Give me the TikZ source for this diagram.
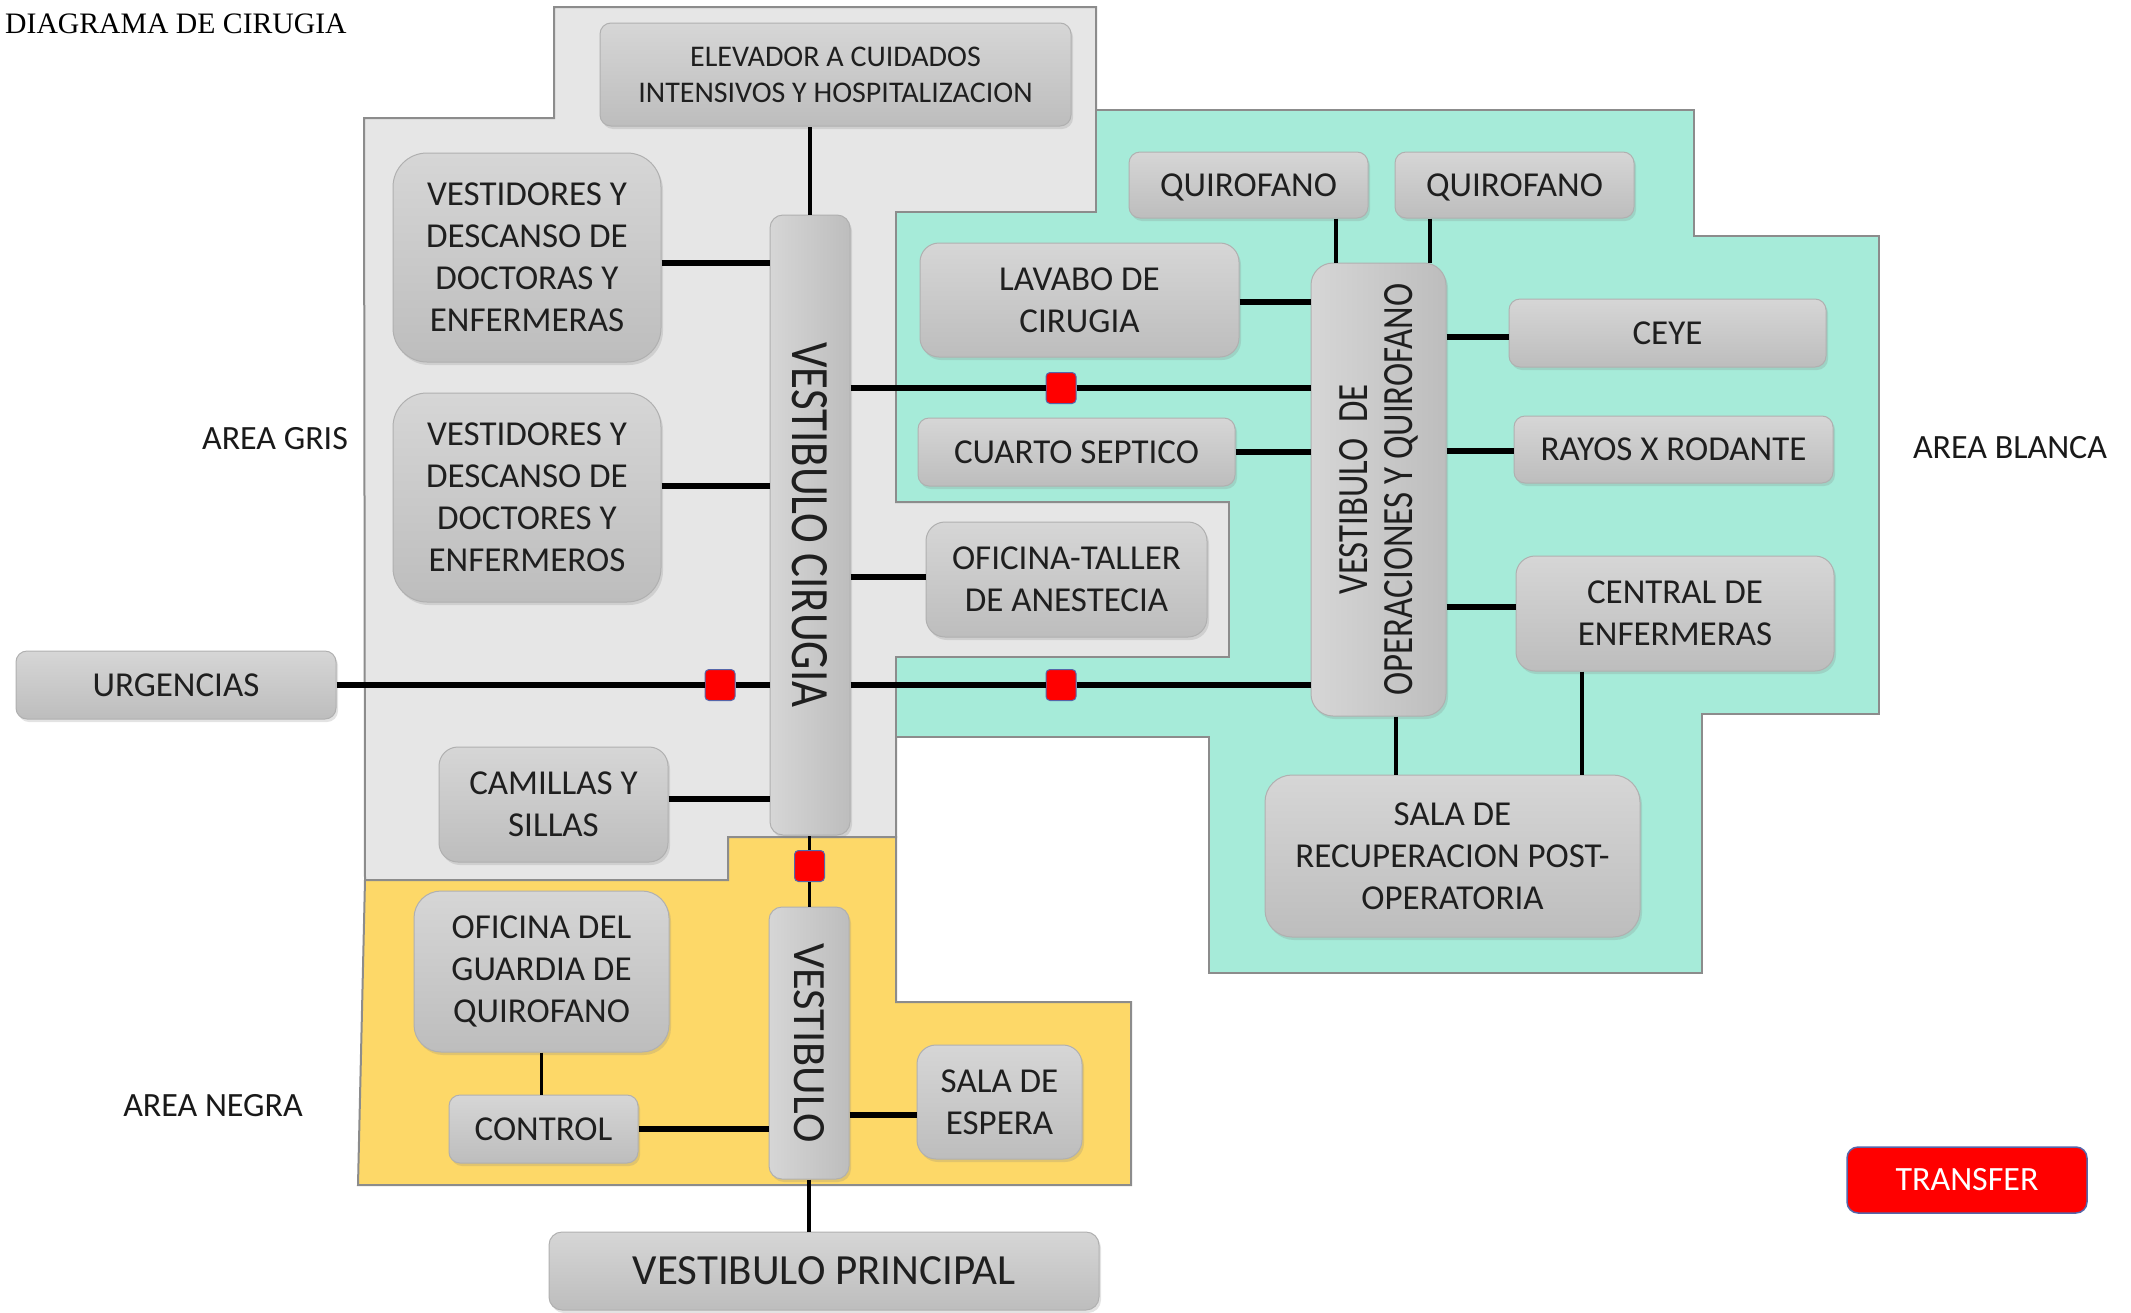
\documentclass[tikz,border=0pt]{standalone}
\usepackage{fontspec}
\setmainfont{Carlito}
\newfontfamily\titlefont{Liberation Serif}
\usetikzlibrary{shadows}
\definecolor{grayarea}{HTML}{E6E6E6}
\definecolor{tealarea}{HTML}{A6EBD9}
\definecolor{yellowarea}{HTML}{FDD868}
\definecolor{areaborder}{HTML}{8C8C8C}
\definecolor{boxtop}{HTML}{D6D6D6}
\definecolor{boxbot}{HTML}{BDBDBD}
\definecolor{boxline}{HTML}{B0B0B0}
\definecolor{redline}{HTML}{5566AA}
\begin{document}
\begin{tikzpicture}[x=1pt,y=-1pt,
  area/.style={draw=areaborder, line width=2pt},
  room/.style={draw=boxline, line width=1pt, top color=boxtop, bottom color=boxbot,
    inner sep=0pt, align=center, text=black!88,
    font=\fontsize{35pt}{42pt}\selectfont,
    drop shadow={shadow xshift=2pt, shadow yshift=-3pt, opacity=0.22}},
  rl/.style={rounded corners=34pt},
  rm/.style={rounded corners=19pt},
  rs/.style={rounded corners=11pt},
  barbox/.style={room, left color=boxtop, right color=boxbot, rounded corners=13pt},
  redsq/.style={fill=red, draw=redline, line width=1pt, rounded corners=4pt,
    minimum width=30pt, minimum height=31pt, inner sep=0pt},
  hconn/.style={line width=5.5pt, black},
  vconn/.style={line width=3.8pt, black},
  arealabel/.style={font=\fontsize{34pt}{40pt}\selectfont, text=black!90, inner sep=0pt}
]
\useasboundingbox (0,0) rectangle (2131,1312);
% areas
\path[area, fill=grayarea] (364,118) -- (554,118) -- (554,7) -- (1096,7) -- (1096,212)
  -- (896,212) -- (896,502) -- (1229,502) -- (1229,657) -- (896,657) -- (896,837)
  -- (728,837) -- (728,880) -- (365,880) -- cycle;
\path[area, fill=tealarea] (1096,110) -- (1694,110) -- (1694,236) -- (1879,236)
  -- (1879,714) -- (1702,714) -- (1702,973) -- (1209,973) -- (1209,737) -- (896,737)
  -- (896,657) -- (1229,657) -- (1229,502) -- (896,502) -- (896,212) -- (1096,212) -- cycle;
\path[area, fill=yellowarea] (728,837) -- (896,837) -- (896,1002) -- (1131,1002)
  -- (1131,1185) -- (358,1185) -- (365,880) -- (728,880) -- cycle;

% title and area labels
\node[anchor=west, inner sep=0pt, font=\titlefont\fontsize{29.7pt}{34pt}\selectfont] (title) at (5,24) {DIAGRAMA DE CIRUGIA};
\node[arealabel] (gris) at (275,439) {AREA GRIS};
\node[arealabel] (blanca) at (2010,448) {AREA BLANCA};
\node[arealabel] (negra) at (213,1106) {AREA NEGRA};

% rooms
\node[room, rs, minimum width=471pt, minimum height=103pt,
  font=\fontsize{30pt}{36pt}\selectfont] (elev) at (835.5,74.5)
  {ELEVADOR A CUIDADOS\\INTENSIVOS Y HOSPITALIZACION};
\node[room, rl, minimum width=268pt, minimum height=209pt] (v1) at (527,257.5)
  {VESTIDORES Y\\DESCANSO DE\\DOCTORAS Y\\ENFERMERAS};
\node[room, rl, minimum width=268pt, minimum height=209pt] (v2) at (527,497.5)
  {VESTIDORES Y\\DESCANSO DE\\DOCTORES Y\\ENFERMEROS};
\node[barbox, minimum width=80pt, minimum height=620pt] (vc) at (810,525)
  {\rotatebox{-90}{\resizebox{365pt}{35pt}{VESTIBULO CIRUGIA}}};
\node[room, rs, minimum width=320pt, minimum height=68pt] (urg) at (176,685) {URGENCIAS};
\node[room, rm, minimum width=229pt, minimum height=115pt] (cam) at (553.5,804.5)
  {CAMILLAS Y\\SILLAS};
\node[room, rm, minimum width=319pt, minimum height=114pt] (lav) at (1079.5,300)
  {LAVABO DE\\CIRUGIA};
\node[room, rs, minimum width=317pt, minimum height=68pt] (sep) at (1076.5,452)
  {CUARTO SEPTICO};
\node[room, rm, minimum width=281pt, minimum height=115pt] (ofi) at (1066.5,579.5)
  {OFICINA-TALLER\\DE ANESTECIA};
\node[room, rs, text depth=0pt, minimum width=239pt, minimum height=66pt] (q1) at (1248.5,185) {QUIROFANO};
\node[room, rs, text depth=0pt, minimum width=239pt, minimum height=66pt] (q2) at (1514.5,185) {QUIROFANO};
\node[barbox, rounded corners=22pt, minimum width=135pt, minimum height=453pt] (op) at (1378.5,489.5)
  {\rotatebox{90}{\vbox{\offinterlineskip
    \hbox to 412pt{\hss\resizebox{210pt}{28pt}{VESTIBULO\ \ DE}\hss}\vskip17pt
    \hbox{\resizebox{412pt}{28pt}{OPERACIONES Y QUIROFANO}}}}};
\node[room, rs, minimum width=317pt, minimum height=68pt] (ceye) at (1667.5,333) {CEYE};
\node[room, rs, minimum width=319pt, minimum height=67pt] (rayos) at (1673.5,449.5) {RAYOS X RODANTE};
\node[room, rm, minimum width=318pt, minimum height=115pt] (cen) at (1675,613.5)
  {CENTRAL DE\\ENFERMERAS};
\node[room, rounded corners=27pt, minimum width=375pt, minimum height=162pt] (rec) at (1452.5,856)
  {SALA DE\\RECUPERACION POST-\\OPERATORIA};
\node[room, rounded corners=27pt, minimum width=255pt, minimum height=161pt] (og) at (541.5,971.5)
  {OFICINA DEL\\GUARDIA DE\\QUIROFANO};
\node[room, rs, minimum width=189pt, minimum height=68pt] (ctrl) at (543.5,1129) {CONTROL};
\node[barbox, minimum width=80pt, minimum height=272pt] (vb) at (809,1043)
  {\rotatebox{-90}{\resizebox{199pt}{30pt}{VESTIBULO}}};
\node[room, rm, minimum width=165pt, minimum height=114pt] (esp) at (999.5,1102)
  {SALA DE\\ESPERA};
\node[room, rounded corners=13pt, minimum width=550pt, minimum height=78pt,
  font=\fontsize{43pt}{50pt}\selectfont] (prin) at (824,1271) {VESTIBULO PRINCIPAL};
\node[rs, fill=red, draw=redline, line width=1.5pt, minimum width=240pt, minimum height=66pt,
  inner sep=0pt, text=white, font=\fontsize{34pt}{40pt}\selectfont] (transfer) at (1967,1180) {TRANSFER};

% red doors
\node[redsq] (r1) at (720,685) {};
\node[redsq] (r2) at (1061,388) {};
\node[redsq] (r3) at (1061,685) {};
\node[redsq] (r4) at (809.5,866) {};

% connectors
\draw[vconn] (vc.north) -- (vc.north |- elev.south);
\draw[hconn] ([yshift=-5.5pt]v1.east) -- ([yshift=-5.5pt]v1.east -| vc.west);
\draw[hconn] ([yshift=11.5pt]v2.east) -- ([yshift=11.5pt]v2.east -| vc.west);
\draw[hconn] (urg.east) -- (r1.west);
\draw[hconn] (r1.east) -- (r1.east -| vc.west);
\draw[hconn] ([yshift=5.5pt]cam.east) -- ([yshift=5.5pt]cam.east -| vc.west);
\draw[hconn] (r2.west -| vc.east) -- (r2.west);
\draw[hconn] (r2.east) -- (r2.east -| op.west);
\draw[hconn] ([yshift=2.5pt]ofi.west -| vc.east) -- ([yshift=2.5pt]ofi.west);
\draw[hconn] (r3.west -| vc.east) -- (r3.west);
\draw[hconn] (r3.east) -- (r3.east -| op.west);
\draw[vconn] (r4.north) -- (r4.north |- vc.south);
\draw[vconn] (r4.south) -- (r4.south |- vb.north);
\draw[hconn] ([yshift=-2pt]lav.east) -- ([yshift=-2pt]lav.east -| op.west);
\draw[hconn] (sep.east) -- (sep.east -| op.west);
\draw[vconn] ([xshift=87.5pt]q1.south) -- ([xshift=87.5pt]q1.south |- op.north);
\draw[vconn] ([xshift=-84.5pt]q2.south) -- ([xshift=-84.5pt]q2.south |- op.north);
\draw[hconn] ([yshift=-4pt]ceye.west -| op.east) -- ([yshift=-4pt]ceye.west);
\draw[hconn] ([yshift=-1.5pt]rayos.west -| op.east) -- ([yshift=-1.5pt]rayos.west);
\draw[hconn] ([yshift=6.5pt]cen.west -| op.east) -- ([yshift=6.5pt]cen.west);
\draw[vconn] ([xshift=17.5pt]op.south) -- ([xshift=17.5pt]op.south |- rec.north);
\draw[vconn] ([xshift=-93pt]cen.south) -- ([xshift=-93pt]cen.south |- rec.north);
\draw[vconn] (og.south) -- (og.south |- ctrl.north);
\draw[hconn] (ctrl.east) -- (ctrl.east -| vb.west);
\draw[hconn] ([yshift=-13pt]esp.west -| vb.east) -- ([yshift=-13pt]esp.west);
\draw[vconn] (vb.south) -- (vb.south |- prin.north);
\end{tikzpicture}
\end{document}
